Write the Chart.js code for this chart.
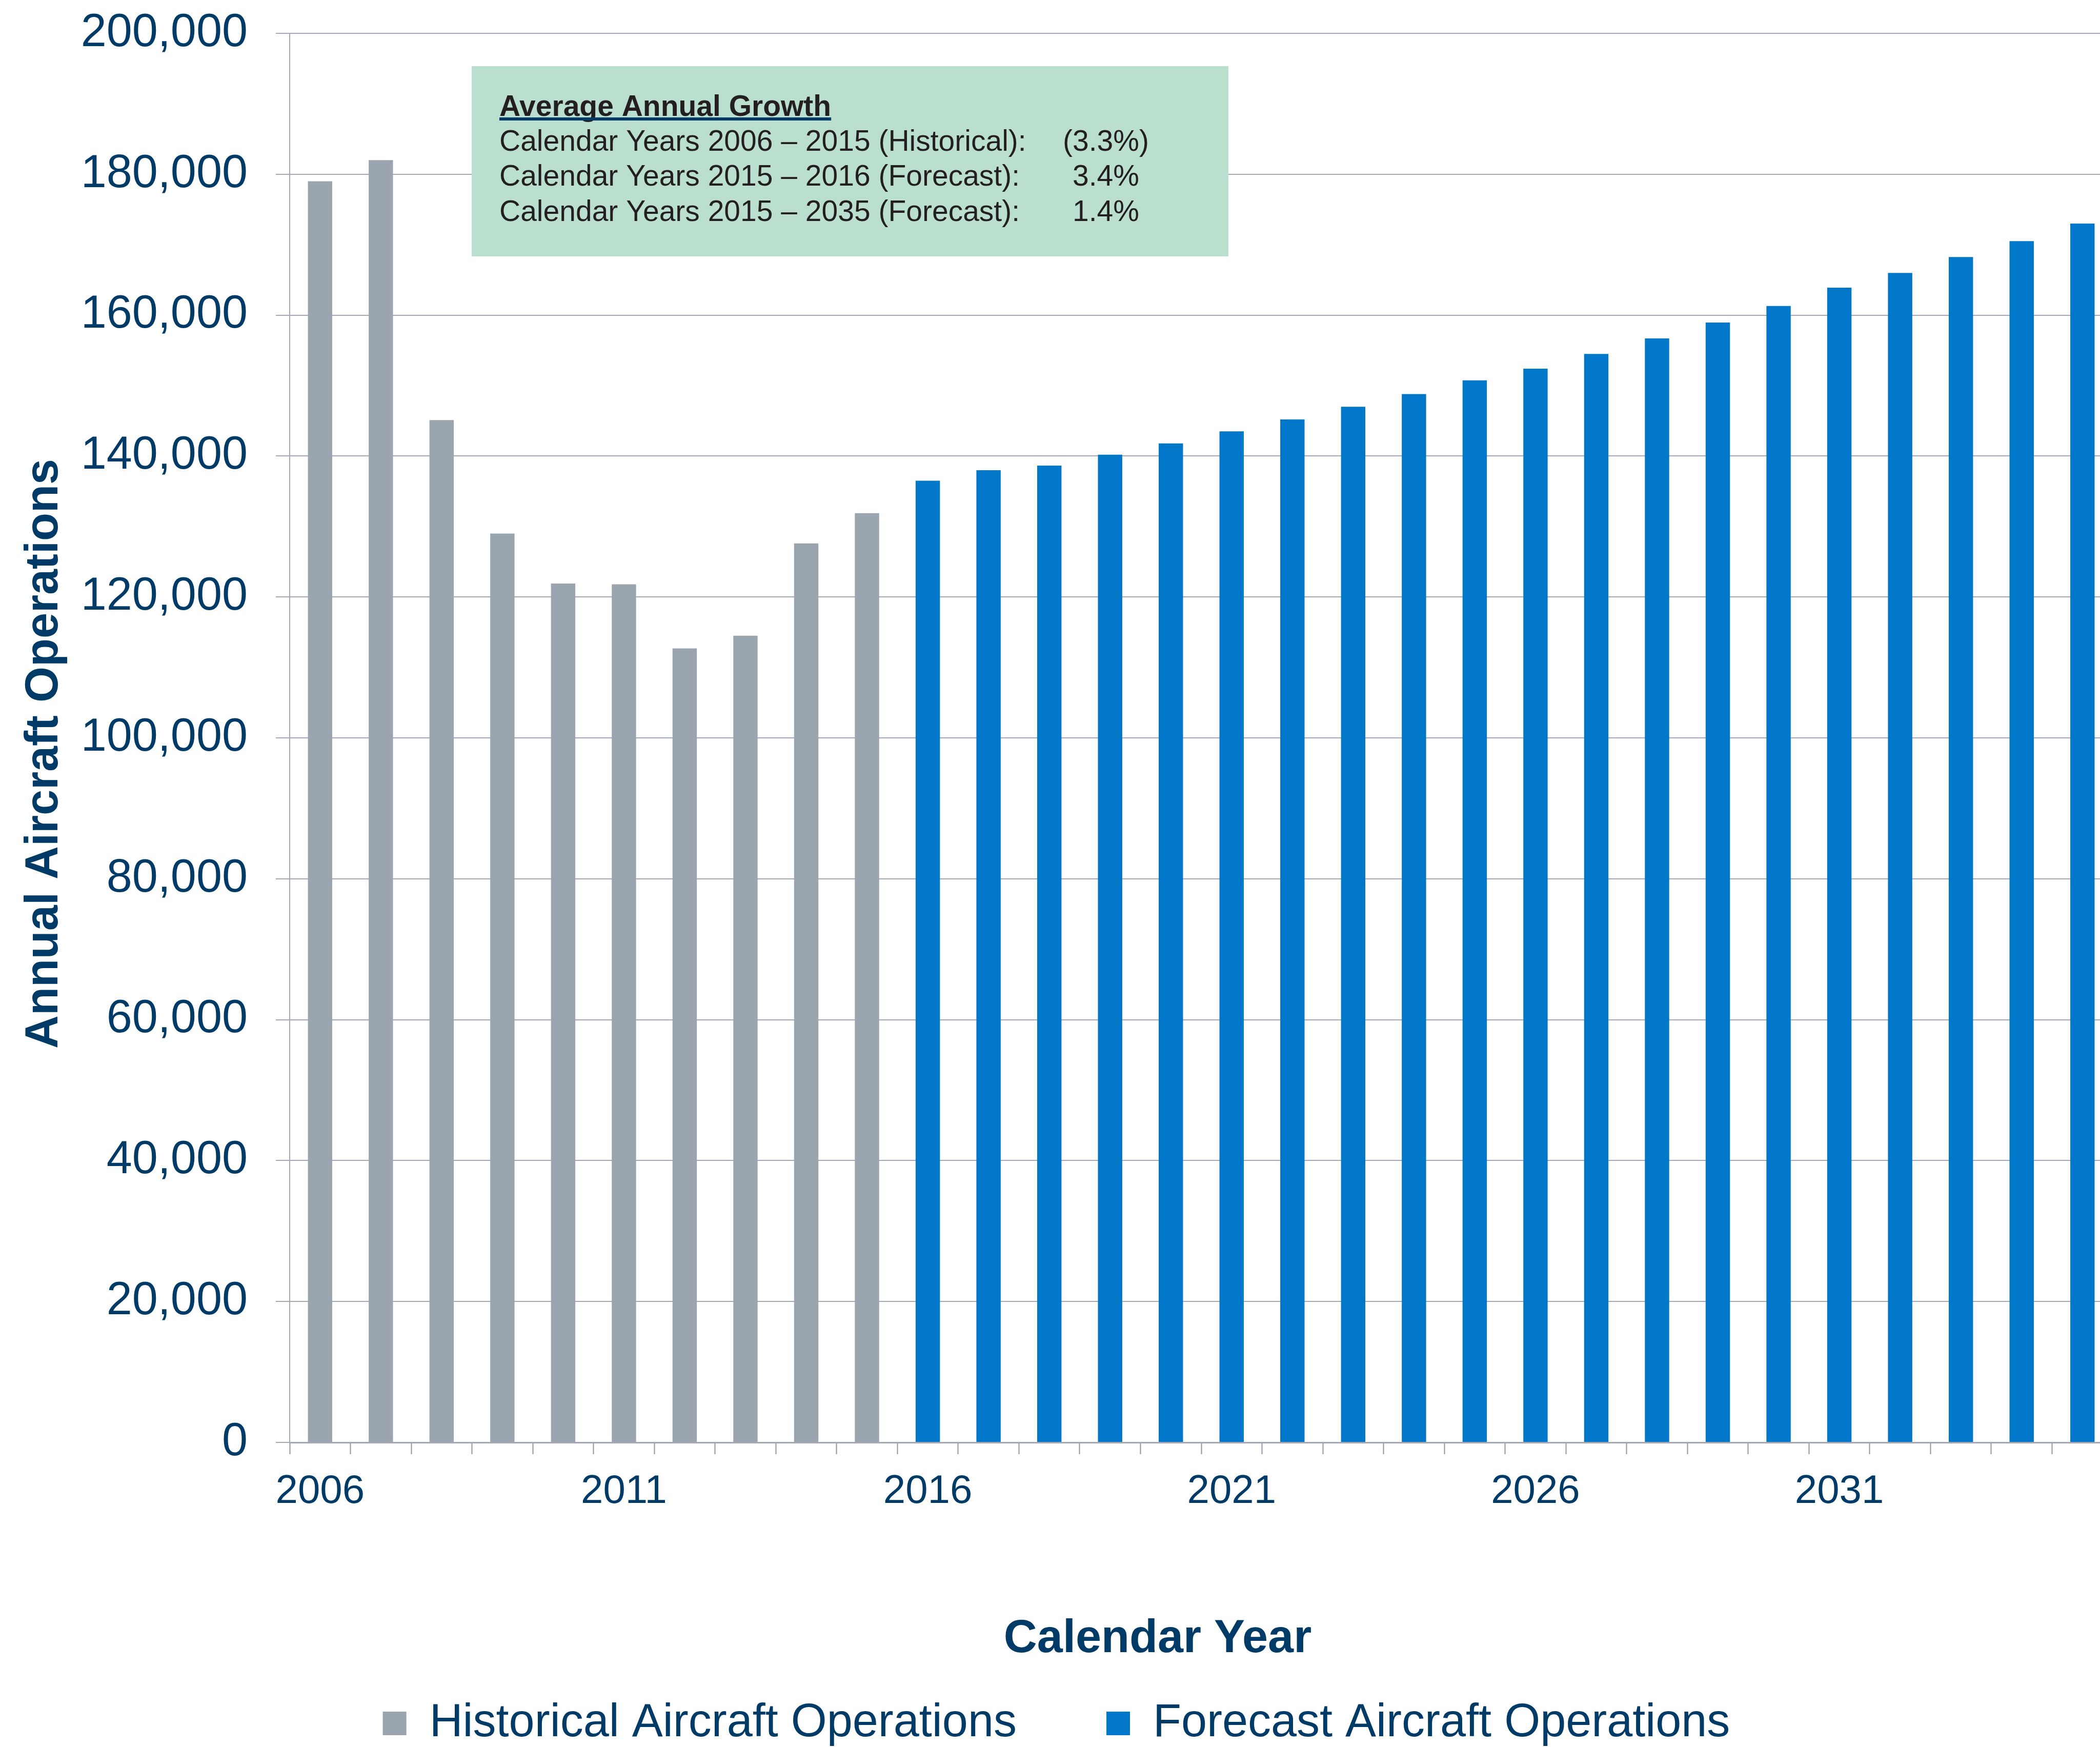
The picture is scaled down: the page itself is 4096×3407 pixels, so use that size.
<!DOCTYPE html>
<html>
<head>
<meta charset="utf-8">
<script src="https://cdn.jsdelivr.net/npm/chart.js@4.4.1/dist/chart.umd.min.js"></script>
<style>
    html, body { margin: 0; padding: 0; overflow: hidden; background: #ffffff; }
    canvas { display: block; }
</style>
</head>
<body>
<canvas id="myChart" width="4130" height="3420"></canvas>
<script>
// chart values
var years = ['2006', '2007', '2008', '2009', '2010', '2011', '2012', '2013', '2014', '2015',
             '2016', '2017', '2018', '2019', '2020', '2021', '2022', '2023', '2024', '2025',
             '2026', '2027', '2028', '2029', '2030', '2031', '2032', '2033', '2034', '2035'];
var historicalOps = [179000, 182000, 145100, 129000, 121900, 121800, 112700, 114500, 127600, 131900,
                     null, null, null, null, null, null, null, null, null, null,
                     null, null, null, null, null, null, null, null, null, null];
var forecastOps = [null, null, null, null, null, null, null, null, null, null,
                   136500, 138000, 138650, 140200, 141800, 143500, 145200, 147000, 148800, 150750,
                   152400, 154500, 156700, 158950, 161300, 163900, 166000, 168250, 170500, 173000];
var xTickYears = ['2006', '2011', '2016', '2021', '2026', '2031'];

var growthHeading = 'Average Annual Growth';
var growthPeriods = ['Calendar Years 2006 \u2013 2015 (Historical):',
                     'Calendar Years 2015 \u2013 2016 (Forecast):',
                     'Calendar Years 2015 \u2013 2035 (Forecast):'];
var growthRates = ['(3.3%)', '3.4%', '1.4%'];

var navy = '#003A66';
var gridGray = '#A4A8B6';
var fontFamily = '"Liberation Sans", Arial, Helvetica, sans-serif';

// axis titles and the growth box are drawn on top of the chart
var extraText = {
    id: 'extraText',
    afterDraw: function (chart) {
        var ctx = chart.ctx;
        ctx.save();

        // growth box
        ctx.fillStyle = '#BADFCE';
        ctx.fillRect(920, 129, 1476, 371);

        ctx.fillStyle = '#231F20';
        ctx.textAlign = 'left';
        ctx.textBaseline = 'alphabetic';
        ctx.font = 'bold 57px ' + fontFamily;
        ctx.fillText(growthHeading, 974, 226);
        var hw = ctx.measureText(growthHeading).width;
        ctx.fillStyle = navy;
        ctx.fillRect(974, 229, hw, 6);

        ctx.fillStyle = '#231F20';
        ctx.font = '57px ' + fontFamily;
        var baselines = [294, 362, 431];
        for (var i = 0; i < growthPeriods.length; i++) {
            ctx.textAlign = 'left';
            ctx.fillText(growthPeriods[i], 974, baselines[i]);
            var r = growthRates[i];
            var hang = r.charAt(r.length - 1) === ')' ? ctx.measureText(')').width : 0;
            ctx.textAlign = 'right';
            ctx.fillText(r, 2222 + hang, baselines[i]);
        }

        // axis titles
        ctx.fillStyle = navy;
        ctx.font = 'bold 90px ' + fontFamily;
        ctx.textAlign = 'center';
        ctx.fillText('Calendar Year', 2258, 3222);

        ctx.translate(112, 1470);
        ctx.rotate(-Math.PI / 2);
        ctx.fillText('Annual Aircraft Operations', 0, 0);

        ctx.restore();
    }
};

var ctx = document.getElementById('myChart').getContext('2d');
window.myChart = new Chart(ctx, {
    type: 'bar',
    data: {
        labels: years,
        datasets: [
            {
                label: 'Historical Aircraft Operations',
                data: historicalOps,
                backgroundColor: '#9AA5AF',
                borderWidth: 0,
                grouped: false,
                barPercentage: 0.4,
                categoryPercentage: 1.0
            },
            {
                label: 'Forecast Aircraft Operations',
                data: forecastOps,
                backgroundColor: '#0077C8',
                borderWidth: 0,
                grouped: false,
                barPercentage: 0.4,
                categoryPercentage: 1.0
            }
        ]
    },
    options: {
        responsive: false,
        animation: false,
        layout: { padding: { top: 65, right: 9, bottom: 4, left: 0 } },
        plugins: {
            tooltip: { enabled: false },
            legend: {
                position: 'bottom',
                labels: {
                    color: navy,
                    font: { family: fontFamily, size: 90 },
                    boxWidth: 46,
                    boxHeight: 46,
                    padding: 175
                }
            }
        },
        scales: {
            x: {
                offset: true,
                grid: {
                    offset: true,
                    drawOnChartArea: false,
                    drawTicks: true,
                    tickLength: 23,
                    tickColor: '#8E95A3',
                    tickWidth: 2
                },
                border: { color: gridGray, width: 3 },
                ticks: {
                    autoSkip: false,
                    maxRotation: 0,
                    padding: 27,
                    color: navy,
                    font: { family: fontFamily, size: 78 },
                    callback: function (value, index) {
                        var y = years[index];
                        return xTickYears.indexOf(y) >= 0 ? y : '';
                    }
                },
                afterFit: function (scale) { scale.height = 328; }
            },
            y: {
                min: 0,
                max: 200000,
                grid: {
                    color: gridGray,
                    lineWidth: 2,
                    tickLength: 27
                },
                border: { color: gridGray, width: 2 },
                ticks: {
                    stepSize: 20000,
                    padding: 55,
                    color: navy,
                    font: { family: fontFamily, size: 90 },
                    callback: function (value) { return value.toLocaleString('en-US'); }
                },
                afterFit: function (scale) {
                    scale.width = 565;
                    scale.paddingTop = 0;
                    scale.paddingBottom = 0;
                }
            }
        }
    },
    plugins: [extraText]
});
</script>
</body>
</html>
